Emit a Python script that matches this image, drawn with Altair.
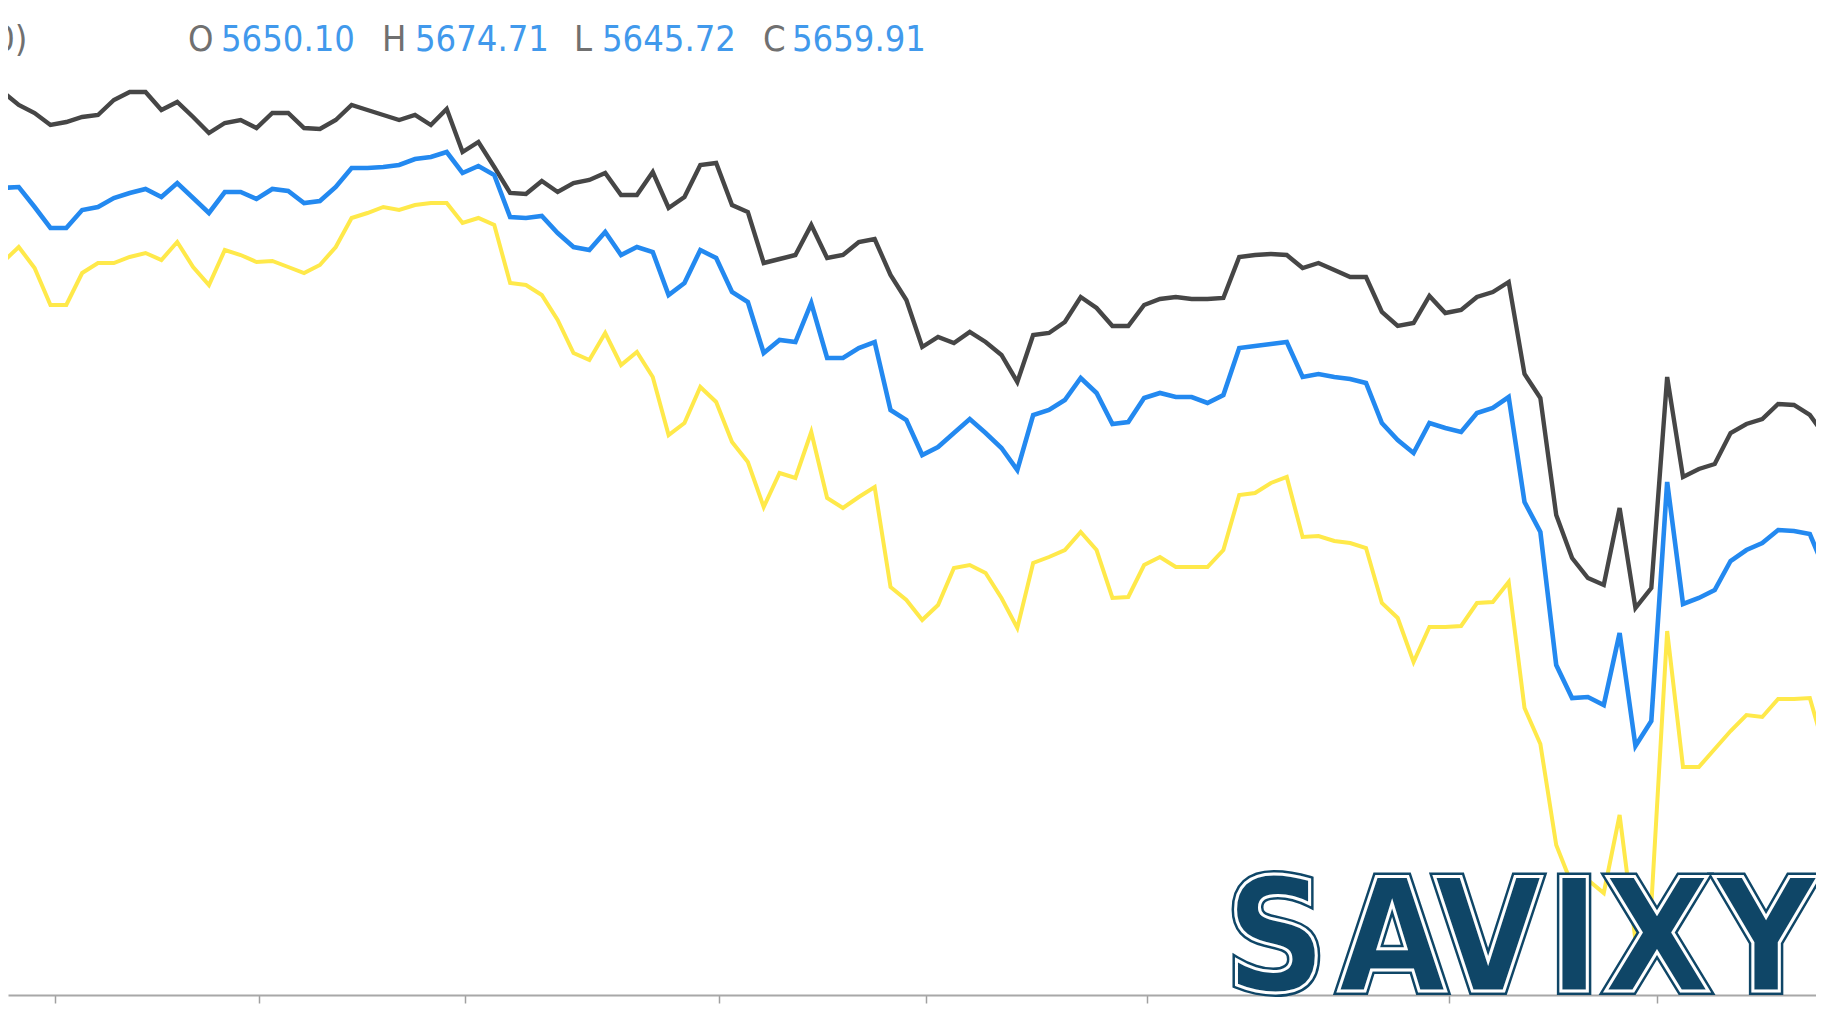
import altair as alt
import pandas as pd

# bar index (one point per session)
idx = list(range(-1, 116))

upper = [5879.25, 5877, 5873.75, 5871.75, 5868.75, 5869.5, 5870.75, 5871.25, 5875, 5877,
         5877, 5872.5, 5874.5, 5870.75, 5866.75, 5869.25, 5870, 5868, 5871.75, 5871.75,
         5868, 5867.75, 5870, 5873.75, 5872.5, 5871.25, 5870, 5871.25, 5868.75, 5872.75,
         5862, 5864.5, 5858.25, 5851.75, 5851.5, 5854.75, 5852, 5854.25, 5855, 5856.75,
         5851.25, 5851.25, 5857, 5848, 5850.75, 5858.75, 5859.25, 5848.75, 5847, 5834.25,
         5835.25, 5836.25, 5843.75, 5835.5, 5836.25, 5839.5, 5840.25, 5831.25, 5825, 5813.25,
         5815.75, 5814.25, 5817, 5814.5, 5811.25, 5804.5, 5816.25, 5816.75, 5819.5, 5825.75,
         5823, 5818.5, 5818.5, 5823.75, 5825.25, 5825.75, 5825.25, 5825.25, 5825.5, 5835.75,
         5836.25, 5836.5, 5836.25, 5833, 5834.25, 5832.5, 5830.75, 5830.75, 5822, 5818.5,
         5819.25, 5826, 5821.75, 5822.5, 5825.75, 5827, 5829.5, 5806.5, 5800.5, 5771.25,
         5760.5, 5755.5, 5753.75, 5773, 5748, 5753, 5805.75, 5780.75, 5782.75, 5784,
         5791.75, 5794, 5795.25, 5799, 5798.75, 5796.25, 5790.75]

middle = [5852.75, 5853, 5853.25, 5848.25, 5843, 5843, 5847.5, 5848.25, 5850.5, 5851.75,
          5852.75, 5850.75, 5854.25, 5850.5, 5846.75, 5852, 5852, 5850.25, 5852.75, 5852.25,
          5849.25, 5849.75, 5853.25, 5858, 5858, 5858.25, 5858.75, 5860.25, 5860.75, 5862,
          5856.75, 5858.5, 5856.25, 5845.75, 5845.5, 5846, 5841.75, 5838.25, 5837.5, 5842,
          5836.25, 5838.25, 5837, 5826.25, 5829.25, 5837.5, 5835.5, 5827, 5824.5, 5811.75,
          5815, 5814.5, 5824.25, 5810.5, 5810.5, 5813, 5814.5, 5797.5, 5795, 5786.25,
          5788.25, 5791.75, 5795.25, 5791.75, 5788, 5782.5, 5796.25, 5797.5, 5800, 5805.5,
          5801.75, 5794, 5794.5, 5800.5, 5801.75, 5800.75, 5800.75, 5799.25, 5801.25, 5813,
          5813.5, 5814, 5814.5, 5805.75, 5806.5, 5805.75, 5805.25, 5804.25, 5794.25, 5790,
          5786.75, 5794.25, 5793, 5792, 5796.75, 5798, 5800.75, 5774.5, 5767, 5733.75,
          5725.5, 5725.75, 5723.75, 5741.75, 5713.5, 5719.75, 5779.5, 5749, 5750.5, 5752.5,
          5759.75, 5762.5, 5764.25, 5767.5, 5767.25, 5766.5, 5757]

lower = [5832.5, 5834.5, 5838.25, 5833, 5823.75, 5823.75, 5831.75, 5834.25, 5834.25, 5835.75,
         5836.75, 5835, 5839.5, 5833.25, 5828.75, 5837.5, 5836.25, 5834.5, 5834.75, 5833.25,
         5831.75, 5833.75, 5838.25, 5845.5, 5846.75, 5848.25, 5847.5, 5848.75, 5849.25, 5849.25,
         5844.25, 5845.5, 5843.75, 5829.25, 5828.75, 5826.25, 5820, 5811.75, 5810, 5816.75,
         5808.75, 5812, 5805.75, 5791.25, 5794.25, 5803.25, 5799.5, 5789.5, 5784.5, 5773.25,
         5781.75, 5780.5, 5792, 5775.5, 5773, 5775.75, 5778.25, 5753.25, 5750, 5745,
         5748.75, 5758, 5758.75, 5756.75, 5750.5, 5743, 5759.25, 5760.75, 5762.5, 5767,
         5762.5, 5750.5, 5750.75, 5758.75, 5760.75, 5758.25, 5758.25, 5758.25, 5762.5, 5776.25,
         5776.75, 5779.25, 5780.75, 5765.75, 5766, 5764.75, 5764.25, 5763, 5749.25, 5745.5,
         5734.5, 5743.25, 5743.25, 5743.5, 5749.25, 5749.5, 5754.5, 5723, 5714, 5688.75,
         5678.75, 5680, 5676.75, 5696.25, 5665, 5673.75, 5742.25, 5708.25, 5708.25, 5712.75,
         5717.25, 5721.25, 5720.75, 5725.25, 5725.25, 5725.5, 5711.75]

tick_positions = [3.29, 16.16, 29.15, 45.18, 58.24, 72.18, 91.24, 104.36]
ohlc_labels = ["O", "H", "L", "C"]
ohlc_values = ["5650.10", "5674.71", "5645.72", "5659.91"]
indicator_tail = "0)"
logo_letters = ["S", "A", "V", "I", "X", "Y"]

assert len(upper) == len(middle) == len(lower) == len(idx)

W, H = 1808, 987
XDOM = [0.3218, 114.39]
YDOM = [5651.25, 5898]

def line_layer(values, color, width):
    df = pd.DataFrame({"i": idx, "v": values})
    return alt.Chart(df).mark_line(color=color, strokeWidth=width, clip=True).encode(
        x=alt.X("i:Q", scale=alt.Scale(domain=XDOM, nice=False, zero=False),
                axis=alt.Axis(values=tick_positions, labels=False, title=None, grid=False,
                              domainColor="#a8a8a8", domainWidth=2, tickColor="#a0a0a0",
                              tickSize=8, tickWidth=1.5)),
        y=alt.Y("v:Q", scale=alt.Scale(domain=YDOM, nice=False, zero=False), axis=None),
    )

layers = [
    line_layer(upper, "#464646", 4.4),
    line_layer(lower, "#FFE94A", 4.0),
    line_layer(middle, "#2389F0", 4.6),
]

TXT_FONT = "DejaVu Sans Condensed"
FS = 36
label_x = [180, 374, 566, 755]
value_x = [213, 407, 594, 784]
for lab, val, lx, vx in zip(ohlc_labels, ohlc_values, label_x, value_x):
    layers.append(alt.Chart().mark_text(text=lab, font=TXT_FONT, fontSize=FS, align="left",
                                        baseline="alphabetic", color="#707070", fontWeight=300)
                  .encode(x=alt.value(lx), y=alt.value(43)))
    layers.append(alt.Chart().mark_text(text=val, font=TXT_FONT, fontSize=FS, align="left",
                                        baseline="alphabetic", color="#4199ec", fontWeight=300)
                  .encode(x=alt.value(vx), y=alt.value(43)))

layers.append(alt.Chart().mark_text(text=indicator_tail, font=TXT_FONT, fontSize=FS, align="right",
                                    baseline="alphabetic", color="#707070")
              .encode(x=alt.value(19.5), y=alt.value(43)))

LOGO_FONT = "DejaVu Sans Condensed"
NAVY = "#0f4667"
LOGO_FS = 156
letter_x = [1268, 1384, 1480, 1566, 1649, 1758]
for sw, sc in [(8, NAVY), (3, "#ffffff")]:
    for letter, lx in zip(logo_letters, letter_x):
        layers.append(alt.Chart().mark_text(text=letter, font=LOGO_FONT, fontSize=LOGO_FS, fontWeight="bold",
                                            align="center", baseline="alphabetic", color=NAVY,
                                            stroke=sc, strokeWidth=sw, strokeJoin="miter")
                      .encode(x=alt.value(lx), y=alt.value(983)))

chart = alt.layer(*layers).properties(
    width=W, height=H,
    autosize=alt.AutoSizeParams(type="none"),
    padding={"left": 0, "top": 0, "right": 0, "bottom": 15},
    background="#ffffff",
).configure_view(stroke=None)

chart.save("out.html", embed_options={"renderer": "svg", "actions": False})
